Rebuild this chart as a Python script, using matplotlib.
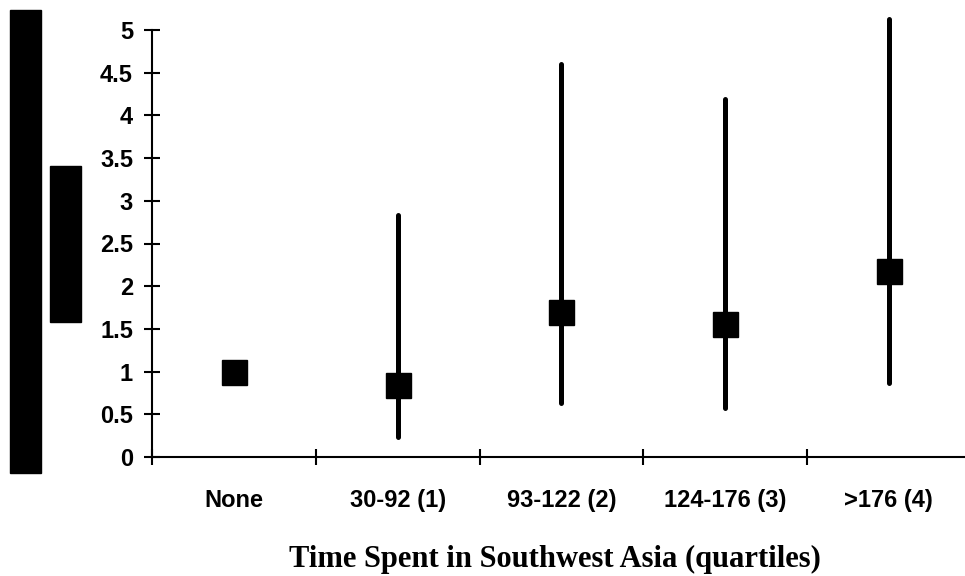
import numpy as np
import matplotlib
matplotlib.use("Agg")
from matplotlib import pyplot as plt
from matplotlib.patches import Rectangle

categories = ["None", "30-92 (1)", "93-122 (2)", "124-176 (3)", ">176 (4)"]
odds_ratio = [1.0, 0.84, 1.70, 1.56, 2.18]
ci_lower = [np.nan, 0.23, 0.63, 0.57, 0.87]
ci_upper = [np.nan, 2.83, 4.60, 4.19, 5.13]
y_ticks = [0, 0.5, 1, 1.5, 2, 2.5, 3, 3.5, 4, 4.5, 5]

W, H = 965, 576
fig = plt.figure(figsize=(W / 100, H / 100), dpi=100)
ax = fig.add_axes([152 / W, (H - 457) / H, (W - 152) / W, (457 - 30) / H])

x = np.arange(len(categories)) + 0.5
has_ci = ~np.isnan(ci_lower)
ax.vlines(x[has_ci], np.array(ci_lower)[has_ci], np.array(ci_upper)[has_ci],
          color="black", lw=3.6, capstyle="round", clip_on=False, zorder=2)
ax.plot(x, odds_ratio, "s", ms=18, color="black", clip_on=False, zorder=3)

ax.set_xlim(0, (W - 152) / 163.75)
ax.set_ylim(0, 5)
ax.set_yticks(y_ticks)
ax.set_yticklabels(["0", "0.5", "1", "1.5", "2", "2.5", "3", "3.5", "4", "4.5", "5"])
ax.set_xticks(np.arange(len(categories)))
ax.set_xticklabels([])
ax.set_xticks(x, minor=True)
ax.set_xticklabels(categories, minor=True)

for side in ["top", "right"]:
    ax.spines[side].set_visible(False)
for side in ["left", "bottom"]:
    ax.spines[side].set_linewidth(1.5)

ax.tick_params(axis="both", which="major", direction="inout", length=12, width=1.5)
ax.tick_params(axis="y", labelsize=17, pad=7.7)
ax.tick_params(axis="x", which="minor", length=0, labelsize=17, pad=23)
for lbl in ax.get_yticklabels() + ax.get_xticklabels(minor=True):
    lbl.set_fontfamily("Liberation Sans")
    lbl.set_fontweight("bold")

fig.text(555 / W, (H - 567) / H, "Time Spent in Southwest Asia (quartiles)",
         ha="center", va="baseline", fontsize=22, fontweight="bold",
         fontfamily="Liberation Serif")

# blacked-out boxes on the left
fig.patches.append(Rectangle((10 / W, (H - 473) / H), 31 / W, 463 / H,
                             transform=fig.transFigure, color="black"))
fig.patches.append(Rectangle((50 / W, (H - 322) / H), 31 / W, 156 / H,
                             transform=fig.transFigure, color="black"))

fig.savefig("out.png", dpi=100)
plt.close()
